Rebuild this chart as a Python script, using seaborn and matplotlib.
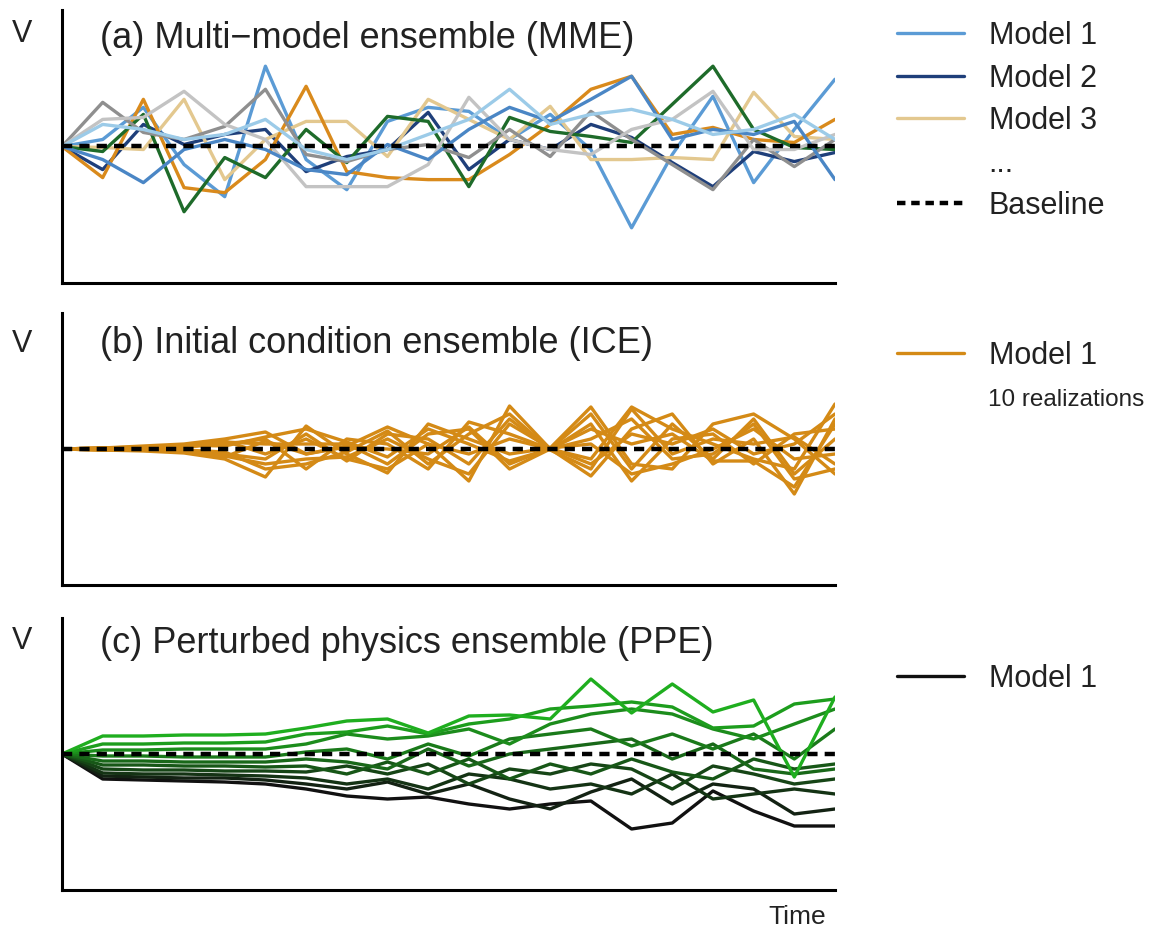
import numpy as np
import pandas as pd
import matplotlib
matplotlib.use("Agg")
import matplotlib.pyplot as plt
from matplotlib.lines import Line2D
import seaborn as sns

sns.set_theme(style="white")
plt.rcParams["font.family"] = ["Liberation Sans", "DejaVu Sans"]

# ---------------------------------------------------------------
# Data: anomaly of variable V relative to the baseline (arbitrary units)
# ---------------------------------------------------------------
time_steps = list(range(20))

# (a) multi-model ensemble: one run per model
mme_model1 = [0, 0.07, 0.39, -0.18, -0.50, 0.80, -0.13, -0.43, 0.25, 0.39, 0.35, 0.07, 0.32, -0.03, -0.81, -0.08, 0.50, -0.36, 0.17, 0.67]
mme_model2 = [0, -0.23, 0.22, 0.02, 0.12, 0.17, -0.25, -0.10, -0.03, 0.34, -0.23, 0.07, -0.03, 0.22, 0.09, -0.16, -0.40, -0.05, -0.15, -0.06]
mme_model3 = [0, -0.01, -0.03, 0.47, -0.33, 0.07, 0.25, 0.25, -0.10, 0.47, 0.27, 0.07, 0.40, -0.13, -0.13, -0.11, -0.13, 0.54, 0.10, 0.07]
mme_model4 = [0, -0.31, 0.47, -0.41, -0.46, -0.13, 0.60, -0.25, -0.31, -0.33, -0.33, -0.08, 0.22, 0.57, 0.70, 0.12, 0.19, 0.07, 0.04, 0.27]
mme_model5 = [0, -0.05, 0.32, -0.65, -0.11, -0.31, 0.17, -0.16, 0.30, 0.25, -0.40, 0.29, 0.15, 0.10, 0.04, 0.42, 0.80, 0.17, -0.01, -0.03]
mme_model6 = [0, 0.44, 0.14, 0.07, 0.20, 0.57, -0.08, -0.15, -0.03, 0.02, -0.11, 0.17, -0.10, 0.35, 0.07, -0.18, -0.43, 0.07, -0.20, 0.07]
mme_model7 = [0, 0.27, 0.29, 0.55, 0.22, 0.07, -0.40, -0.40, -0.40, -0.18, 0.49, 0.07, -0.03, -0.08, 0.17, 0.27, 0.55, -0.03, -0.03, 0.12]
mme_model8 = [0, -0.13, -0.36, -0.03, 0.07, -0.03, -0.23, -0.28, 0.02, -0.13, 0.17, 0.39, 0.25, 0.47, 0.70, 0.07, 0.17, 0.12, 0.25, -0.33]
mme_model9 = [0, 0.22, 0.17, 0.07, 0.12, 0.27, -0.03, -0.13, -0.03, 0.12, 0.27, 0.57, 0.22, 0.32, 0.37, 0.27, 0.12, 0.17, 0.32, 0.07]

mme_names = [f"Model {k}" for k in range(1, 10)]
mme_runs = [mme_model1, mme_model2, mme_model3, mme_model4, mme_model5,
            mme_model6, mme_model7, mme_model8, mme_model9]
mme_colors = ["#5b9bd5", "#1f3f7a", "#e3c88f", "#d98a1c", "#1e6b2a",
              "#8f8f8f", "#c3c3c3", "#4a86c5", "#9ccbe8"]

# (b) initial condition ensemble: 10 realizations of Model 1
ice_r1 = [0, 0.01, 0.03, 0.05, 0.10, 0.17, -0.05, 0.03, 0.22, 0.05, -0.32, 0.43, 0.00, -0.10, 0.42, 0.20, 0.05, -0.10, -0.20, 0.45]
ice_r2 = [0, -0.01, -0.02, -0.04, -0.10, -0.28, 0.23, -0.05, -0.24, 0.25, 0.10, -0.05, 0.01, 0.42, -0.15, -0.20, 0.25, 0.35, 0.10, -0.25]
ice_r3 = [0, 0.00, 0.01, 0.02, 0.05, 0.10, -0.20, 0.10, 0.05, -0.20, 0.27, 0.15, 0.00, -0.27, 0.20, 0.35, -0.15, 0.10, -0.45, 0.30]
ice_r4 = [0, 0.01, 0.02, -0.02, -0.05, -0.10, 0.15, -0.12, 0.15, 0.10, -0.15, 0.30, -0.01, 0.25, -0.32, 0.10, 0.15, -0.15, 0.15, 0.20]
ice_r5 = [0, 0.00, -0.01, 0.03, 0.07, 0.05, 0.05, 0.05, -0.15, 0.15, 0.20, -0.20, 0.00, 0.10, 0.30, -0.10, -0.05, 0.25, -0.30, -0.20]
ice_r6 = [0, -0.01, 0.01, -0.03, -0.07, -0.15, -0.10, -0.08, 0.10, -0.10, -0.25, 0.25, 0.01, -0.15, 0.15, 0.05, 0.20, -0.05, 0.05, 0.35]
ice_r7 = [0, 0.01, 0.00, 0.04, 0.03, 0.12, 0.20, 0.07, -0.08, 0.20, 0.05, -0.12, 0.00, 0.35, -0.20, 0.25, -0.10, 0.30, -0.25, 0.10]
ice_r8 = [0, 0.00, 0.02, -0.01, -0.03, -0.20, -0.15, -0.03, 0.18, -0.15, 0.15, 0.35, -0.01, -0.20, 0.40, -0.05, 0.10, 0.05, 0.12, -0.15]
ice_r9 = [0, -0.01, -0.01, 0.01, 0.08, -0.05, 0.10, -0.10, -0.20, 0.05, -0.05, 0.10, 0.00, 0.20, 0.05, 0.15, -0.12, -0.12, -0.38, 0.25]
ice_r10 = [0, 0.01, 0.01, -0.02, -0.08, 0.08, -0.05, 0.02, 0.00, -0.05, 0.22, -0.15, 0.01, 0.05, -0.25, -0.15, 0.00, 0.20, -0.10, -0.05]
ice_runs = [ice_r1, ice_r2, ice_r3, ice_r4, ice_r5, ice_r6, ice_r7, ice_r8, ice_r9, ice_r10]

# (c) perturbed physics ensemble: 10 parameter settings of Model 1
ppe_p1 = [0, -0.25, -0.26, -0.27, -0.28, -0.30, -0.35, -0.42, -0.45, -0.43, -0.50, -0.55, -0.50, -0.47, -0.75, -0.69, -0.37, -0.57, -0.72, -0.72]
ppe_p2 = [0, -0.22, -0.23, -0.24, -0.24, -0.26, -0.30, -0.35, -0.28, -0.40, -0.30, -0.45, -0.55, -0.38, -0.25, -0.50, -0.30, -0.35, -0.60, -0.55]
ppe_p3 = [0, -0.19, -0.20, -0.20, -0.21, -0.22, -0.24, -0.30, -0.25, -0.35, -0.20, -0.25, -0.35, -0.30, -0.40, -0.20, -0.45, -0.40, -0.35, -0.40]
ppe_p4 = [0, -0.15, -0.16, -0.16, -0.17, -0.17, -0.18, -0.12, -0.20, -0.10, -0.30, -0.15, -0.20, -0.10, -0.15, -0.35, -0.12, -0.20, -0.30, -0.25]
ppe_p5 = [0, -0.11, -0.11, -0.12, -0.12, -0.13, -0.12, -0.20, -0.08, -0.20, -0.05, -0.25, -0.10, -0.20, -0.05, -0.18, -0.25, -0.05, -0.15, -0.10]
ppe_p6 = [0, -0.07, -0.07, -0.08, -0.08, -0.08, -0.05, -0.08, -0.15, 0.05, -0.12, 0.00, 0.05, 0.10, 0.15, -0.05, 0.10, -0.15, -0.20, -0.15]
ppe_p7 = [0, -0.02, -0.02, -0.03, -0.03, -0.03, 0.02, 0.05, -0.05, 0.10, -0.02, 0.15, 0.20, 0.25, 0.08, 0.20, 0.05, 0.20, -0.05, 0.25]
ppe_p8 = [0, 0.04, 0.04, 0.05, 0.05, 0.05, 0.10, 0.20, 0.15, 0.18, 0.25, 0.10, 0.30, 0.40, 0.45, 0.40, 0.25, 0.15, 0.30, 0.45]
ppe_p9 = [0, 0.10, 0.10, 0.11, 0.11, 0.12, 0.20, 0.22, 0.28, 0.20, 0.30, 0.35, 0.45, 0.48, 0.52, 0.47, 0.26, 0.28, 0.50, 0.55]
ppe_p10 = [0, 0.18, 0.18, 0.19, 0.19, 0.20, 0.26, 0.33, 0.35, 0.21, 0.38, 0.39, 0.35, 0.75, 0.41, 0.70, 0.42, 0.54, -0.23, 0.57]
ppe_runs = [ppe_p1, ppe_p2, ppe_p3, ppe_p4, ppe_p5, ppe_p6, ppe_p7, ppe_p8, ppe_p9, ppe_p10]


def long_table(runs, names):
    rows = []
    for name, run in zip(names, runs):
        for t, v in zip(time_steps, run):
            rows.append({"time": t, "value": v, "member": name})
    return pd.DataFrame(rows)


mme_df = long_table(mme_runs, mme_names)
ice_df = long_table(ice_runs, [f"r{k}" for k in range(1, 11)])
ppe_names = [f"p{k}" for k in range(1, 11)]
ppe_df = long_table(ppe_runs, ppe_names)
ppe_colors = sns.blend_palette(["#111111", "#1fae1f"], n_colors=10)

ORANGE = "#d48a16"
TEXT = "#222222"
W, H = 1168, 938

fig = plt.figure(figsize=(W / 100, H / 100), dpi=100)


def fx(px):
    return px / W


def fy(py):
    return 1 - py / H


panel_boxes = [(10, 283), (313, 585), (618, 890)]
axes = []
for top, bottom in panel_boxes:
    ax = fig.add_axes([fx(62), fy(bottom), fx(835) - fx(62), (bottom - top) / H])
    axes.append(ax)

LW = 2.4
sns.lineplot(data=mme_df, x="time", y="value", hue="member",
             palette=dict(zip(mme_names, mme_colors)), estimator=None,
             linewidth=LW, legend=False, ax=axes[0])
sns.lineplot(data=ice_df, x="time", y="value", units="member", color=ORANGE,
             estimator=None, linewidth=LW, legend=False, ax=axes[1])
sns.lineplot(data=ppe_df, x="time", y="value", hue="member",
             palette=dict(zip(ppe_names, ppe_colors)), estimator=None,
             linewidth=LW, legend=False, ax=axes[2])

DASH = (0, (2.3, 1.6))
for ax in axes:
    ax.axhline(0, color="black", lw=3.2, ls=DASH, zorder=10)
    ax.set_xlim(0, 19)
    ax.set_ylim(-1.36, 1.36)
    ax.set_xticks([])
    ax.set_yticks([])
    ax.set_xlabel("")
    ax.set_ylabel("")
    for side in ["top", "right"]:
        ax.spines[side].set_visible(False)
    for side in ["left", "bottom"]:
        ax.spines[side].set_color("black")
        ax.spines[side].set_linewidth(2.2)
    ax.patch.set_alpha(0)

titles = ["(a) Multi\u2212model ensemble (MME)",
          "(b) Initial condition ensemble (ICE)",
          "(c) Perturbed physics ensemble (PPE)"]
title_y = [38, 343, 643]
v_y = [34, 344, 641]
for t, ty, vy in zip(titles, title_y, v_y):
    fig.text(fx(100), fy(ty), t, fontsize=26, color=TEXT, va="center", ha="left")
    fig.text(fx(22), fy(vy), "V", fontsize=22, color=TEXT, va="center", ha="center")

fig.text(fx(826), fy(917), "Time", fontsize=19, color=TEXT, va="center", ha="right")

leg_kw = dict(frameon=False, fontsize=22, handlelength=2.2, handletextpad=0.8,
              borderpad=0, borderaxespad=0, loc="upper left",
              bbox_transform=fig.transFigure, labelcolor=TEXT)

handles_a = [Line2D([], [], color=mme_colors[0], lw=LW),
             Line2D([], [], color=mme_colors[1], lw=LW),
             Line2D([], [], color=mme_colors[2], lw=LW),
             Line2D([], [], color="none", lw=0),
             Line2D([], [], color="black", lw=3.2, ls=(0, (1.9, 1.3)))]
labels_a = ["Model 1", "Model 2", "Model 3", "...", "Baseline"]
axes[0].legend(handles_a, labels_a, bbox_to_anchor=(fx(897), fy(21)),
               labelspacing=0.41, **leg_kw)

axes[1].legend([Line2D([], [], color=ORANGE, lw=LW)], ["Model 1"],
               bbox_to_anchor=(fx(897), fy(341)), **leg_kw)
fig.text(fx(988), fy(400), "10 realizations", fontsize=17.5, color=TEXT, va="center", ha="left")

axes[2].legend([Line2D([], [], color="#111111", lw=LW)], ["Model 1"],
               bbox_to_anchor=(fx(897), fy(664)), **leg_kw)

fig.savefig("out.png", dpi=100)
